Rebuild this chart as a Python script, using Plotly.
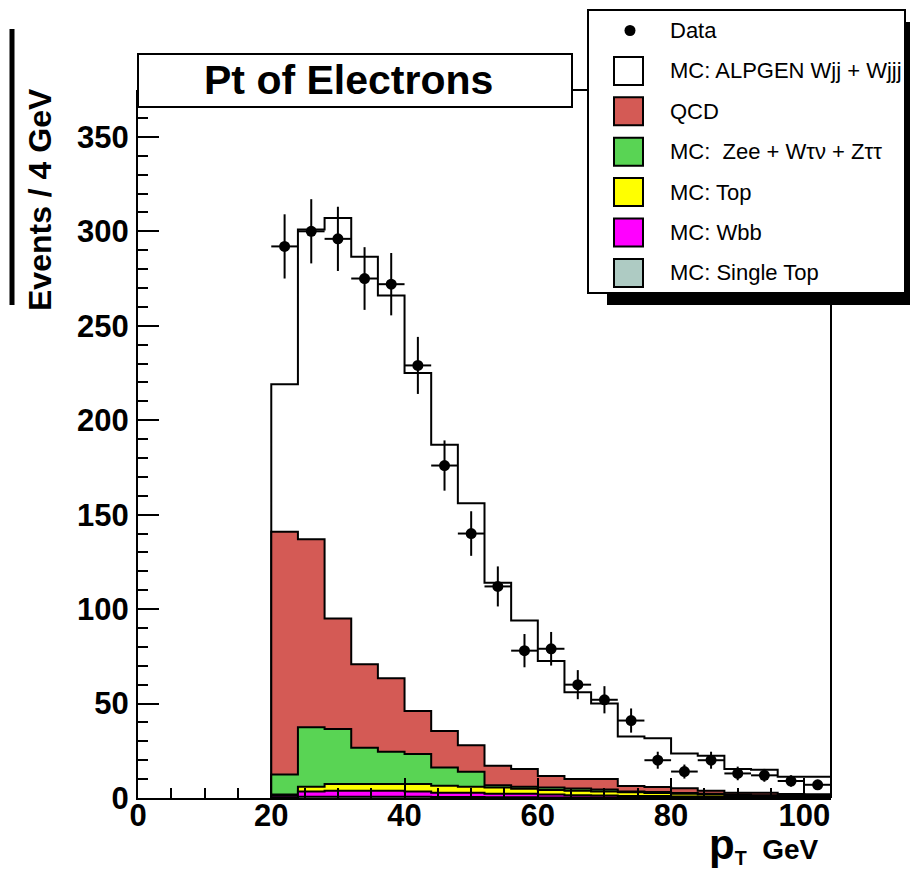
import numpy as np
import plotly.graph_objects as go

# ---------------- data ----------------
bin_lo = [20, 24, 28, 32, 36, 40, 44, 48, 52, 56, 60, 64, 68, 72, 76, 80, 84, 88, 92, 96, 100]
bin_width = 4
data_x = [22, 26, 30, 34, 38, 42, 46, 50, 54, 58, 62, 66, 70, 74, 78, 82, 86, 90, 94, 98, 102]
data_y = [292, 300, 296, 275, 272, 229, 176, 140, 112, 78, 79, 60, 52, 41, 20, 14, 20, 13, 12, 9, 7]
data_err = [17, 17, 17, 16.6, 16.5, 15.1, 13.3, 11.8, 10.6, 8.8, 8.9, 7.7, 7.2, 6.4, 4.5, 3.7, 4.5, 3.6, 3.4, 3.0, 2.6]

# stacked MC components, bottom -> top
single_top = [0.3, 0.6, 0.7, 0.7, 0.7, 0.6, 0.5, 0.5, 0.4, 0.4, 0.3, 0.3, 0.3, 0.2, 0.2, 0.2, 0.2, 0.1, 0.1, 0.1, 0.1]
wbb = [0.9, 2.8, 3.2, 3.2, 3.2, 2.8, 2.3, 2.3, 1.8, 1.8, 1.5, 1.2, 1.0, 0.9, 0.8, 0.6, 0.5, 0.5, 0.4, 0.3, 0.3]
top = [0.6, 2.6, 3.5, 3.5, 3.5, 4.0, 3.7, 3.2, 3.4, 2.7, 2.4, 2.3, 2.2, 1.9, 1.7, 1.4, 1.1, 0.9, 0.7, 0.6, 0.4]
zwt = [10.7, 31.4, 29.1, 19.2, 17.1, 15.9, 9.7, 7.9, 1.1, 1.1, 1.3, 1.2, 1.0, 0.5, 0.5, 0.4, 0.4, 0.3, 0.3, 0.2, 0.2]
qcd = [128.5, 99.6, 58.5, 44.2, 38.9, 22.7, 19.3, 14.0, 10.4, 9.3, 6.1, 5.0, 5.5, 2.8, 2.6, 2.5, 1.7, 1.0, 1.3, 0.9, 1.0]
wjets = [78, 164, 212, 215.7, 202.6, 179, 151.5, 128.1, 96.9, 78.7, 60.9, 46, 40, 26.2, 25.8, 18.5, 18.5, 12.5, 12.2, 9.2, 9.3]

layer_names = ["MC: Single Top", "MC: Wbb", "MC: Top", "MC:  Zee + W\u03c4\u03bd + Z\u03c4\u03c4", "QCD", "MC: ALPGEN Wjj + Wjjj"]
layer_values = [single_top, wbb, top, zwt, qcd, wjets]
layer_colors = ["#aecbc3", "#ff00ff", "#ffff00", "#59d454", "#d45a55", "#ffffff"]

legend_order = ["Data", "MC: ALPGEN Wjj + Wjjj", "QCD", "MC:  Zee + W\u03c4\u03bd + Z\u03c4\u03c4", "MC: Top", "MC: Wbb", "MC: Single Top"]
legend_colors = [None, "#ffffff", "#d45a55", "#59d454", "#ffff00", "#ff00ff", "#aecbc3"]

x_range = [0, 104]
y_range = [0, 374.8]
x_ticks = [0, 20, 40, 60, 80, 100]
y_ticks = [0, 50, 100, 150, 200, 250, 300, 350]

# ---------------- geometry helpers (pixel -> paper) ----------------
W, H = 910, 869
L, R, T, B = 138, 831, 90, 798


def px(x):
    return (x - L) / (R - L)


def py(y):
    return (B - y) / (B - T)


FONT = "Liberation Sans, Arial, sans-serif"

fig = go.Figure()

# stacked histogram: draw cumulative levels from top to bottom
cum = np.cumsum(np.array(layer_values, dtype=float), axis=0)
edges = bin_lo + [bin_lo[-1] + bin_width]
for i in reversed(range(len(layer_values))):
    lvl = list(cum[i])
    xs = [edges[0]] + edges + [edges[-1]]
    ys = [0] + lvl + [lvl[-1], 0]
    fig.add_trace(go.Scatter(
        x=xs, y=ys, mode="lines", line=dict(shape="hv", color="black", width=2),
        fill="tozeroy", fillcolor=layer_colors[i], name=layer_names[i],
        showlegend=False, hoverinfo="skip"))

# data points
fig.add_trace(go.Scatter(
    x=data_x, y=data_y, mode="markers",
    marker=dict(color="black", size=11),
    error_y=dict(type="data", array=data_err, color="black", thickness=2, width=0),
    error_x=dict(type="constant", value=bin_width / 2, color="black", thickness=2, width=0),
    name="Data", showlegend=False))

shapes = []
# frame right and top
shapes.append(dict(type="line", xref="paper", yref="paper", x0=1, x1=1, y0=0, y1=1,
                   line=dict(color="black", width=2), layer="above"))
shapes.append(dict(type="line", xref="paper", yref="paper", x0=0, x1=1, y0=1, y1=1,
                   line=dict(color="black", width=2), layer="above"))
# title box
shapes.append(dict(type="rect", xref="paper", yref="paper", x0=px(138), x1=px(572), y0=py(107), y1=py(54),
                   fillcolor="white", line=dict(color="black", width=2), layer="above"))
# legend shadow and box
shapes.append(dict(type="rect", xref="paper", yref="paper", x0=px(607), x1=px(915), y0=py(305), y1=py(22),
                   fillcolor="black", line=dict(width=0), layer="above"))
shapes.append(dict(type="rect", xref="paper", yref="paper", x0=px(588), x1=px(905), y0=py(293), y1=py(10),
                   fillcolor="white", line=dict(color="black", width=2), layer="above"))
# thick line left of y title
shapes.append(dict(type="line", xref="paper", yref="paper", x0=px(12), x1=px(12), y0=py(29), y1=py(305),
                   line=dict(color="black", width=5), layer="above"))

annotations = []
for i, (name, col) in enumerate(zip(legend_order, legend_colors)):
    cy = 30.5 + 40.4 * i
    if col is None:
        shapes.append(dict(type="circle", xref="paper", yref="paper", x0=px(624.5), x1=px(635.5),
                           y0=py(cy + 5.5), y1=py(cy - 5.5), fillcolor="black",
                           line=dict(color="black", width=0), layer="above"))
    else:
        shapes.append(dict(type="rect", xref="paper", yref="paper", x0=px(614), x1=px(643),
                           y0=py(cy + 14), y1=py(cy - 14), fillcolor=col,
                           line=dict(color="black", width=2), layer="above"))
    annotations.append(dict(xref="paper", yref="paper", x=px(668), y=py(cy), xanchor="left", yanchor="middle",
                            text=name, showarrow=False, font=dict(family=FONT, size=22, color="black")))

annotations.append(dict(xref="paper", yref="paper", x=px(348), y=py(80), xanchor="center", yanchor="middle",
                        text="<b>Pt of Electrons</b>", showarrow=False,
                        font=dict(family=FONT, size=41, color="black")))
annotations.append(dict(xref="paper", yref="paper", x=px(40), y=py(200), xanchor="center", yanchor="middle",
                        text="<b>Events / 4 GeV</b>", textangle=-90, showarrow=False,
                        font=dict(family=FONT, size=32, color="black")))
annotations.append(dict(xref="paper", yref="paper", x=px(821), y=py(845), xanchor="right", yanchor="middle",
                        text="<b><span style='font-size:42px'>p</span><sub>T</sub>  GeV</b>", showarrow=False,
                        font=dict(family=FONT, size=28, color="black")))

tickfont = dict(family=FONT, size=31, color="black", weight="bold")

fig.update_layout(
    width=W, height=H,
    margin=dict(l=L, r=W - R, t=T, b=H - B, pad=0),
    paper_bgcolor="white", plot_bgcolor="white",
    showlegend=False,
    shapes=shapes, annotations=annotations,
    xaxis=dict(range=x_range, tickvals=x_ticks, ticks="inside", ticklen=20, tickwidth=2,
               tickcolor="black", showline=True, linecolor="black", linewidth=2, showgrid=False,
               zeroline=False, tickfont=tickfont, ticklabelstandoff=-11,
               minor=dict(ticks="inside", ticklen=10, tickwidth=2, tickcolor="black", dtick=5, showgrid=False)),
    yaxis=dict(range=y_range, tickvals=y_ticks, ticks="inside", ticklen=21,
               tickwidth=2, tickcolor="black", showline=True, linecolor="black", linewidth=2, showgrid=False,
               zeroline=False, tickfont=tickfont, ticklabelstandoff=1,
               minor=dict(ticks="inside", ticklen=10, tickwidth=2, tickcolor="black", dtick=10, showgrid=False)),
)

fig.write_html("out.html")
